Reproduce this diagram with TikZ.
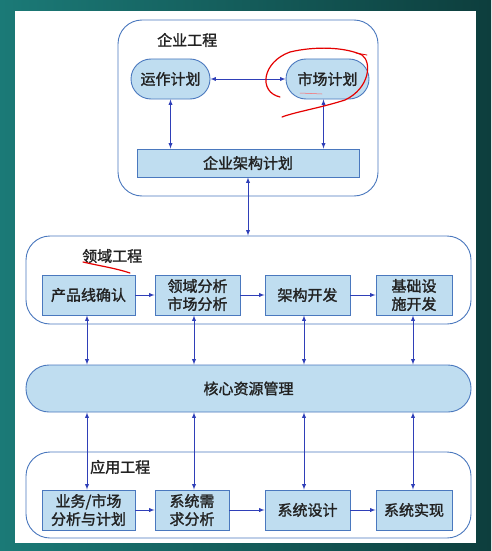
\documentclass[tikz,border=0pt]{standalone}
\usepackage{fontspec}
\setmainfont{Noto Sans CJK SC}[BoldFont={Noto Sans CJK SC}, BoldFeatures={FakeBold=1.6}]
\usetikzlibrary{positioning}
\definecolor{boxfill}{HTML}{BFDDF0}
\definecolor{boxline}{HTML}{4A78BE}
\definecolor{arrline}{HTML}{2F3FB8}
\definecolor{slidebg}{HTML}{1B7A77}
\definecolor{slidedark}{HTML}{0D3E3D}
\definecolor{txt}{HTML}{222222}
\begin{document}
\begin{tikzpicture}[
        x=1pt, y=-1pt,
        font=\fontsize{15}{18}\selectfont\bfseries, text=txt,
        % 外框（工程）
        group/.style={
            rectangle, draw=boxline, line width=0.9pt,
            rounded corners=24pt, inner sep=0pt
        },
        % 椭圆框
        plan/.style={
            rectangle, draw=boxline, fill=boxfill, line width=0.9pt,
            rounded corners=20pt, minimum height=40pt, inner sep=0pt
        },
        % 方框
        task/.style={
            rectangle, draw=boxline, fill=boxfill, line width=0.9pt,
            minimum height=40pt, inner sep=0pt, align=center
        },
        % 标题
        title/.style={anchor=west, inner sep=0pt},
        % 箭头
        arr/.style={-latex, line width=0.9pt, draw=arrline},
        dbl/.style={latex-latex, line width=0.9pt, draw=arrline},
        % 红色批注
        scribble/.style={draw=red!90!black, line width=1.2pt, line cap=round}
    ]
        % 背景
        \shade [left color=slidebg, right color=slidedark] (0,0) rectangle (491,551);
        \fill [white] (15,11) rectangle (476,543);
        \useasboundingbox (0,0) rectangle (491,551);

        % 企业工程
        \node [group, minimum width=260pt, minimum height=176pt] (ent) at (248,108) {};
        \node [title] (enttitle) at (157,40) {企业工程};
        \node [plan, minimum width=79pt] (ops) at (170.5,79) {运作计划};
        \node [plan, minimum width=83pt] (mkt) at (327.5,79) {市场计划};
        \node [task, minimum width=222pt, minimum height=28pt] (eap) at (248,163) {企业架构计划};

        % 领域工程
        \node [group, minimum width=445pt, minimum height=88pt] (dom) at (248.5,280) {};
        \node [title] (domtitle) at (82,256) {领域工程};
        \node [task, minimum width=93pt] (d1) at (88.5,295) {产品线确认};
        \node [task, minimum width=85pt] (d2) at (197.5,295) {领域分析\\市场分析};
        \node [task, minimum width=85pt] (d3) at (307.5,295) {架构开发};
        \node [task, minimum width=76pt] (d4) at (414,295) {基础设\\施开发};

        % 核心资源
        \node [plan, minimum width=445pt, minimum height=47pt, rounded corners=23pt] (core) at (248.5,388.5) {核心资源管理};

        % 应用工程
        \node [group, minimum width=445pt, minimum height=86pt] (app) at (248.5,495) {};
        \node [title] (apptitle) at (90,467) {应用工程};
        \node [task, minimum width=93pt] (a1) at (88.5,510) {业务/市场\\分析与计划};
        \node [task, minimum width=74pt] (a2) at (192,510) {系统需\\求分析};
        \node [task, minimum width=85pt] (a3) at (307.5,510) {系统设计};
        \node [task, minimum width=76pt] (a4) at (414,510) {系统实现};

        % 箭头
        \draw [dbl] (ops) -- (mkt);
        \draw [dbl] (ops.south) -- (ops.south |- eap.north);
        \draw [dbl] ([xshift=-4pt]mkt.south) -- ([xshift=-4pt]mkt.south |- eap.north);
        \draw [dbl] (eap.south) -- (eap.south |- dom.north);
        \draw [arr] (d1) -- (d2);
        \draw [arr] (d2) -- (d3);
        \draw [arr] (d3) -- (d4);
        \draw [arr] (a1) -- (a2);
        \draw [arr] (a2) -- (a3);
        \draw [arr] (a3) -- (a4);
        \foreach \n/\dx in {d1/-1.5, d2/-3.5, d3/-3.5, d4/-1} {
            \draw [dbl] ([xshift=\dx pt]\n.south) -- ([xshift=\dx pt]\n.south |- core.north);
        }
        \foreach \n/\dx in {a1/-1.5, a2/2, a3/-3.5, a4/-1} {
            \draw [dbl] ([xshift=\dx pt]\n.north) -- ([xshift=\dx pt]\n.north |- core.south);
        }

        % 红色批注
        \draw [scribble] (280,97) .. controls (258,92) and (262,62) .. (290,52)
            .. controls (315,46) and (345,47) .. (362,55)
            .. controls (372,62) and (370,88) .. (345,100)
            .. controls (320,108) and (295,112) .. (282,117);
        \draw [scribble, line width=0.8pt] (356,53) -- (367,55);
        \draw [scribble, line width=0.5pt, red!60] (300,93) -- (322,94);
        \draw [scribble] (83,262) .. controls (100,266) and (115,268) .. (130,273);
\end{tikzpicture}
\end{document}
